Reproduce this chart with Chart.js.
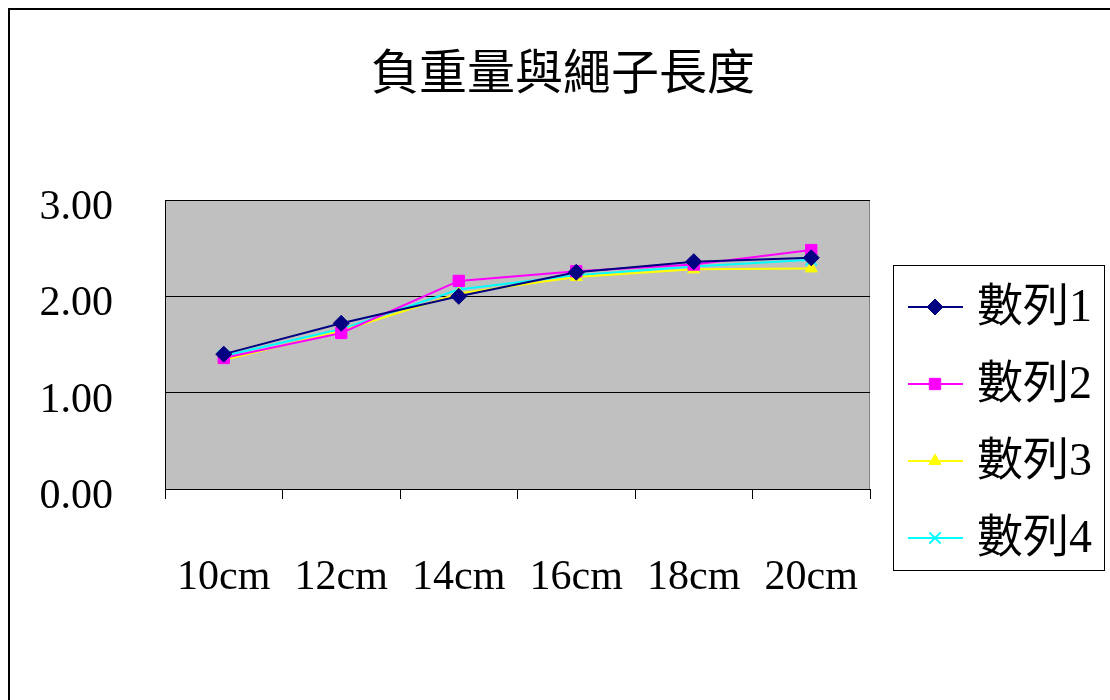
<!DOCTYPE html>
<html>
<head>
<meta charset="utf-8">
<script src="https://cdn.jsdelivr.net/npm/chart.js@4"></script>
<style>
  html, body { margin: 0; padding: 0; background: #fff; }
  #wrap { width: 1110px; height: 700px; }
</style>
</head>
<body>
<div id="wrap"><canvas id="myChart"></canvas></div>
<script>
const titulo = '負重量與繩子長度';
const comprimentos = ['10cm', '12cm', '14cm', '16cm', '18cm', '20cm'];
const serie1 = [1.40, 1.72, 2.00, 2.25, 2.36, 2.40];
const serie2 = [1.36, 1.62, 2.16, 2.26, 2.33, 2.48];
const serie3 = [1.34, 1.64, 2.03, 2.20, 2.28, 2.29];
const serie4 = [1.38, 1.66, 2.07, 2.22, 2.31, 2.38];
const nomes = ['數列1', '數列2', '數列3', '數列4'];

const fonte = "'Liberation Serif', 'Noto Sans CJK TC', serif";
const ctx = document.getElementById('myChart');

// fundo cinza da area do grafico + moldura externa + titulo
const fundo = {
  id: 'fundo',
  beforeDraw(chart) {
    const c = chart.ctx;
    const a = chart.chartArea;
    c.save();
    c.fillStyle = '#fff';
    c.fillRect(0, 0, chart.width, chart.height);
    c.strokeStyle = '#000';
    c.lineWidth = 2;
    c.strokeRect(9, 9, chart.width + 50, chart.height + 50);
    c.fillStyle = '#C0C0C0';
    c.fillRect(a.left, a.top, a.right - a.left, a.bottom - a.top);
    c.strokeStyle = '#808080';
    c.lineWidth = 1;
    c.strokeRect(a.left + 0.5, a.top + 0.5, a.right - a.left - 1, a.bottom - a.top);
    c.fillStyle = '#000';
    c.font = '48px ' + fonte;
    c.textAlign = 'center';
    c.textBaseline = 'middle';
    c.fillText(titulo, 563, 76);
    c.restore();
  }
};

// legenda desenhada a mao, com caixa
const legenda = {
  id: 'legenda',
  afterDraw(chart) {
    const c = chart.ctx;
    const x0 = 893, y0 = 265, w = 211, h = 305;
    c.save();
    c.fillStyle = '#fff';
    c.fillRect(x0, y0, w, h);
    c.strokeStyle = '#000';
    c.lineWidth = 1;
    c.strokeRect(x0 + 0.5, y0 + 0.5, w, h);
    chart.data.datasets.forEach((ds, i) => {
      const y = 307 + i * 77;
      c.strokeStyle = ds.borderColor;
      c.lineWidth = 2;
      c.beginPath();
      c.moveTo(908, y);
      c.lineTo(963, y);
      c.stroke();
      c.fillStyle = ds.pointBackgroundColor;
      c.strokeStyle = ds.pointBorderColor;
      c.lineWidth = ds.pointBorderWidth;
      Chart.helpers.drawPoint(c, {
        pointStyle: ds.pointStyle,
        radius: ds.pointRadius,
        borderWidth: ds.pointBorderWidth,
        rotation: 0
      }, 935, y);
      c.fillStyle = '#000';
      c.font = '46px ' + fonte;
      c.textAlign = 'left';
      c.textBaseline = 'middle';
      c.fillText(ds.label, 977, y + 2);
    });
    c.restore();
  }
};

function serie(label, data, cor, estilo, raio) {
  return {
    label: label,
    data: data,
    borderColor: cor,
    backgroundColor: cor,
    pointBackgroundColor: cor,
    pointBorderColor: cor,
    pointStyle: estilo,
    pointRadius: raio,
    pointBorderWidth: estilo === 'crossRot' ? 2 : 1,
    borderWidth: 2,
    tension: 0
  };
}

new Chart(ctx, {
  type: 'line',
  data: {
    labels: comprimentos,
    datasets: [
      serie(nomes[0], serie1, '#000080', 'rectRot', 8),
      serie(nomes[1], serie2, '#FF00FF', 'rect', 8),
      serie(nomes[2], serie3, '#FFFF00', 'triangle', 7),
      serie(nomes[3], serie4, '#00FFFF', 'crossRot', 8)
    ]
  },
  options: {
    responsive: true,
    maintainAspectRatio: false,
    animation: false,
    layout: { padding: { left: 0, top: 200, right: 240, bottom: 0 } },
    plugins: {
      legend: { display: false },
      title: { display: false },
      tooltip: { enabled: false }
    },
    scales: {
      x: {
        offset: true,
        afterFit(scale) { scale.height = 211; },
        grid: {
          offset: true,
          drawOnChartArea: false,
          drawTicks: true,
          tickLength: 10,
          color: '#000'
        },
        border: { color: '#000', width: 1 },
        ticks: {
          color: '#000',
          padding: 54,
          maxRotation: 0,
          font: { family: fonte, size: 42 }
        }
      },
      y: {
        min: 0,
        max: 3,
        afterFit(scale) { scale.width = 165; },
        grid: { color: '#000', drawTicks: false },
        border: { color: '#000', width: 1 },
        ticks: {
          stepSize: 1,
          color: '#000',
          padding: 52,
          labelOffset: 8,
          font: { family: fonte, size: 42 },
          callback: v => v.toFixed(2)
        }
      }
    }
  },
  plugins: [fundo, legenda]
});
</script>
</body>
</html>
